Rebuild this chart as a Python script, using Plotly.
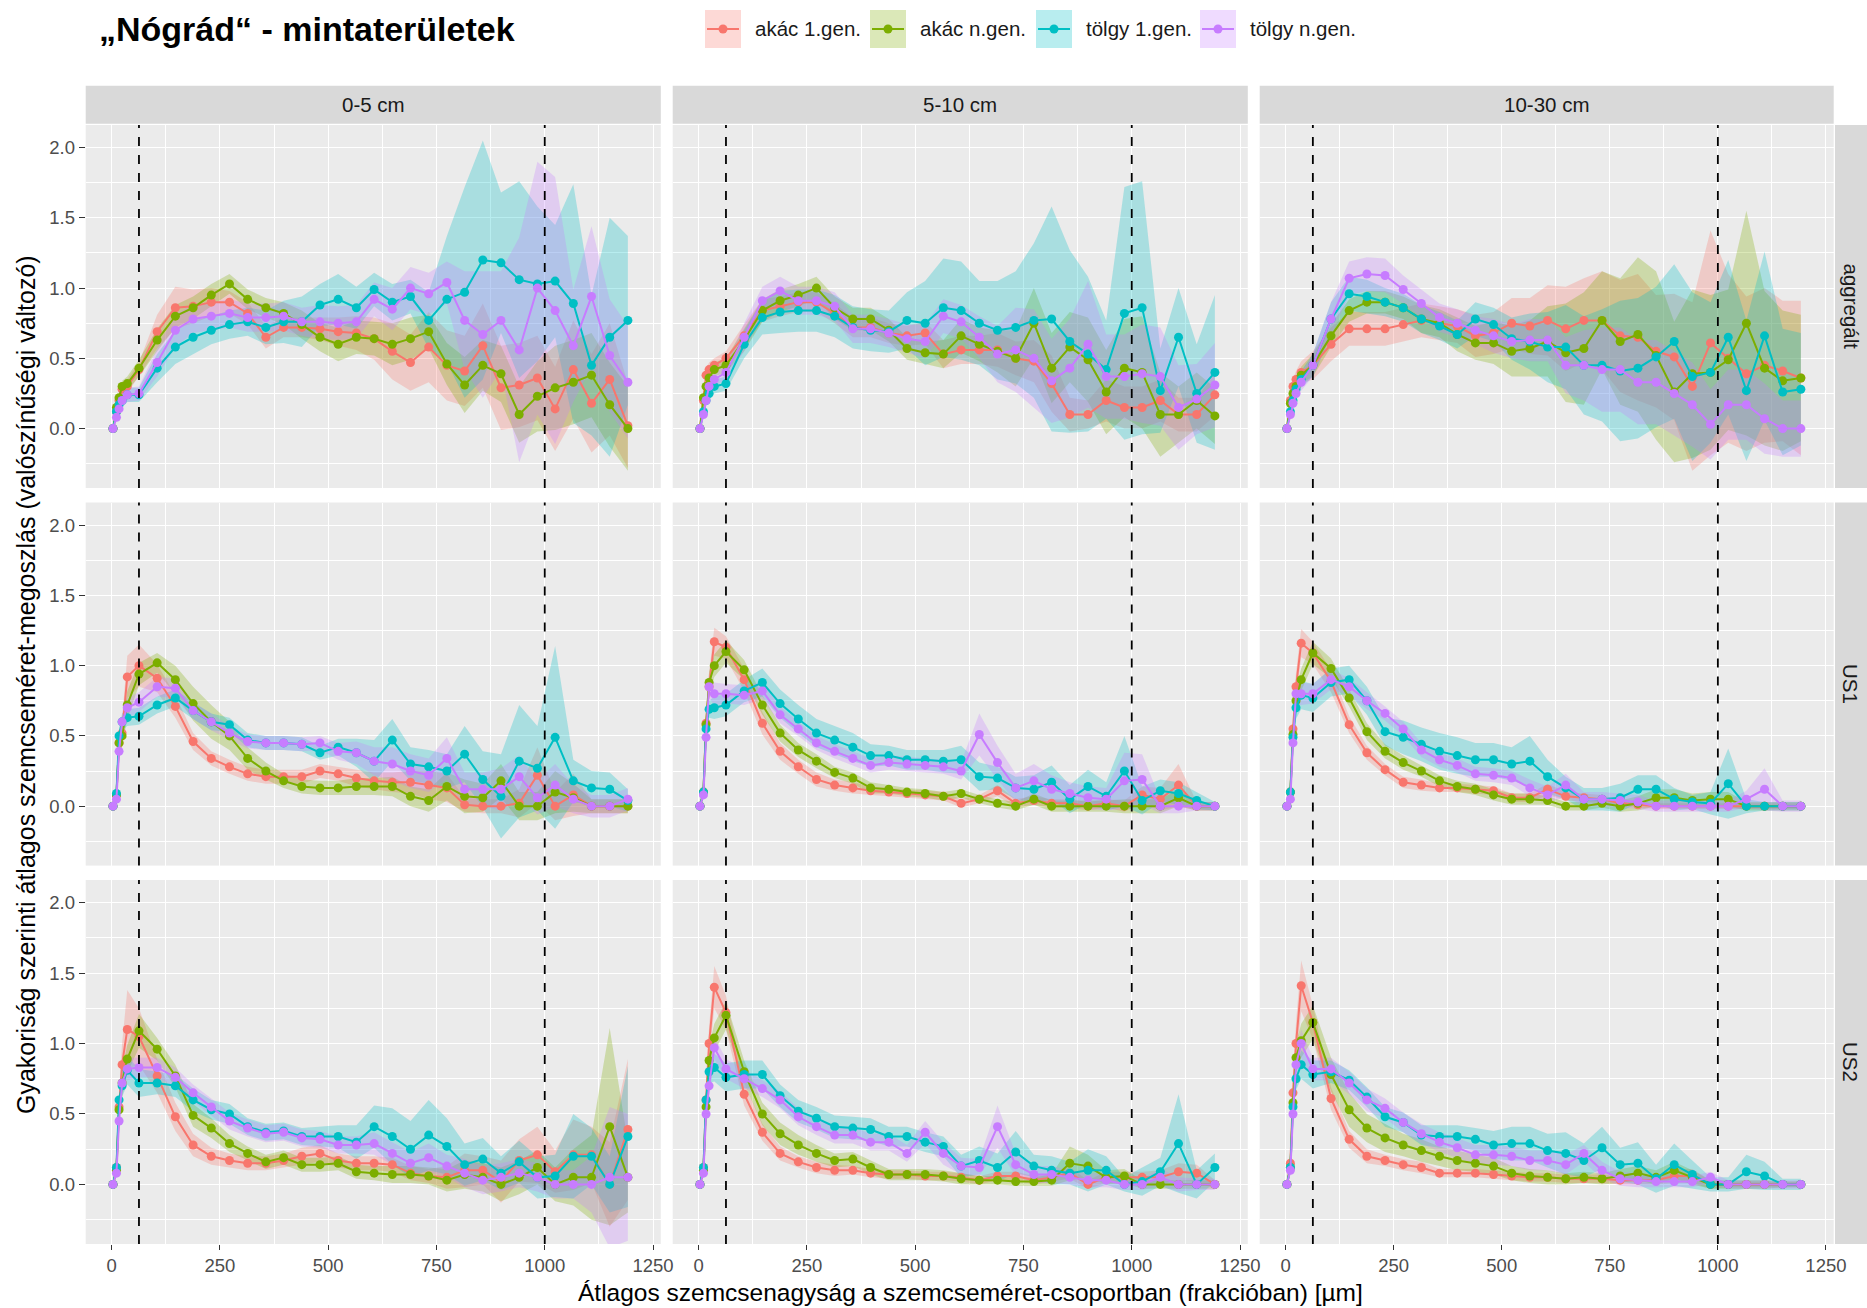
import plotly.graph_objects as go

W, H = 1867, 1308          # target picture size (all pixel coordinates below refer to it)
LAYOUT_W = 1880            # plotly layout width (the page is photographed slightly squeezed)

# ---------------- data ----------------
X = [3, 11, 17, 24, 36, 63, 105, 147, 188, 230, 272, 314, 356, 397, 439, 481, 523,
     565, 606, 648, 690, 732, 774, 815, 857, 899, 941, 983, 1024, 1066, 1108, 1150, 1192]

SERIES = ["akác 1.gen.", "akác n.gen.", "tölgy 1.gen.", "tölgy n.gen."]
COLORS = ["#F8766D", "#7CAE00", "#00BFC4", "#C77CFF"]
FILLS = ["rgba(248,118,109,0.28)", "rgba(124,174,0,0.28)", "rgba(0,191,196,0.28)", "rgba(199,124,255,0.28)"]
DEPTHS = ["0-5 cm", "5-10 cm", "10-30 cm"]
SITES = ["aggregált", "US1", "US2"]
X_TICKS = [0, 250, 500, 750, 1000, 1250]
Y_TICKS = [0.0, 0.5, 1.0, 1.5, 2.0]
Y_TICK_TEXT = ["0.0", "0.5", "1.0", "1.5", "2.0"]
VLINES = [63, 1000]

# aggregált, 0-5 cm
AGG_05_A1 = [0, .12, .2, .28, .3, .42, .69, .86, .87, .9, .9, .82, .65, .72, .72, .71, .69, .68, .64, .55, .47, .58, .45, .41, .59, .29, .31, .36, .14, .42, .18, .35, .02]
AGG_05_AN = [0, .15, .22, .3, .32, .43, .63, .8, .86, .95, 1.03, .92, .86, .82, .74, .65, .6, .65, .64, .6, .64, .69, .46, .31, .45, .39, .1, .23, .29, .33, .38, .17, 0]
AGG_05_T1 = [0, .12, .17, .2, .24, .24, .43, .58, .65, .7, .74, .76, .72, .76, .76, .88, .92, .86, .99, .9, .94, .77, .92, .97, 1.2, 1.18, 1.06, 1.03, 1.05, .89, .45, .65, .77]
AGG_05_TN = [0, .08, .14, .2, .24, .25, .47, .7, .78, .8, .82, .79, .79, .8, .76, .76, .75, .76, .92, .85, 1.0, .96, 1.04, .77, .67, .77, .56, 1.0, .84, .59, .94, .52, .33]
AGG_05_A1_SD = [0, .03, .04, .05, .05, .05, .12, .15, .12, .1, .08, .08, .08, .07, .07, .08, .1, .12, .15, .2, .2, .25, .25, .25, .3, .3, .3, .3, .3, .35, .35, .4, .3]
AGG_05_AN_SD = [0, .03, .03, .04, .05, .06, .08, .08, .08, .08, .07, .07, .07, .08, .1, .1, .12, .12, .12, .15, .15, .12, .15, .2, .18, .2, .2, .25, .3, .3, .3, .3, .3]
AGG_05_T1_SD = [0, .03, .04, .05, .05, .05, .1, .12, .12, .1, .1, .1, .12, .15, .18, .15, .18, .15, .12, .13, .12, .2, .45, .75, .85, .5, .7, .55, .4, .85, .5, .85, .6]
AGG_05_TN_SD = [0, .03, .04, .05, .05, .05, .1, .12, .1, .1, .1, .1, .1, .1, .1, .12, .12, .12, .12, .15, .15, .15, .15, .35, .45, .35, .8, .9, .95, .4, .5, .4, .4]

# aggregált, 5-10 cm
AGG_510_A1 = [0, .2, .38, .42, .45, .5, .66, .84, .87, .9, .9, .82, .72, .72, .68, .66, .68, .53, .56, .56, .56, .5, .48, .32, .1, .1, .2, .15, .15, .2, .1, .1, .24]
AGG_510_AN = [0, .22, .3, .36, .42, .45, .63, .84, .91, .95, 1.0, .86, .78, .78, .7, .57, .54, .53, .66, .6, .55, .5, .75, .43, .58, .49, .26, .43, .4, .1, .1, .2, .09]
AGG_510_T1 = [0, .12, .2, .25, .3, .32, .6, .79, .83, .84, .84, .8, .72, .7, .69, .77, .75, .86, .84, .75, .7, .72, .77, .78, .62, .53, .42, .82, .86, .27, .65, .25, .4]
AGG_510_TN = [0, .1, .2, .3, .35, .4, .65, .91, .98, .91, .91, .87, .71, .71, .68, .64, .62, .8, .76, .65, .53, .56, .5, .34, .43, .6, .37, .37, .39, .37, .15, .21, .31]
AGG_510_A1_SD = [0, .04, .05, .05, .05, .05, .08, .08, .07, .07, .07, .07, .07, .07, .07, .07, .08, .1, .1, .1, .12, .12, .15, .2, .12, .1, .15, .15, .15, .15, .12, .12, .15]
AGG_510_AN_SD = [0, .04, .05, .05, .05, .05, .08, .08, .08, .08, .08, .08, .08, .08, .08, .08, .08, .1, .12, .12, .15, .2, .25, .25, .25, .3, .3, .35, .4, .3, .2, .2, .2]
AGG_510_T1_SD = [0, .03, .04, .05, .05, .05, .1, .12, .15, .15, .15, .15, .15, .15, .15, .2, .3, .35, .35, .3, .35, .4, .55, .8, .65, .55, .35, .9, .9, .3, .35, .35, .55]
AGG_510_TN_SD = [0, .03, .04, .05, .05, .05, .1, .1, .1, .1, .1, .1, .1, .1, .1, .1, .12, .12, .12, .15, .2, .3, .35, .3, .35, .45, .3, .3, .35, .35, .3, .25, .3]

# aggregált, 10-30 cm
AGG_1030_A1 = [0, .2, .3, .35, .4, .45, .6, .71, .71, .71, .74, .77, .75, .73, .66, .68, .75, .73, .77, .71, .77, .77, .66, .65, .55, .51, .3, .61, .5, .39, .45, .41, .36]
AGG_1030_AN = [0, .18, .25, .3, .38, .45, .66, .84, .9, .9, .86, .78, .75, .67, .61, .61, .55, .57, .62, .54, .57, .77, .62, .67, .52, .26, .39, .4, .49, .75, .43, .34, .36]
AGG_1030_T1 = [0, .12, .2, .28, .35, .45, .78, .96, .94, .9, .86, .78, .73, .67, .78, .74, .64, .62, .58, .58, .45, .45, .41, .43, .51, .62, .37, .4, .65, .27, .66, .26, .28]
AGG_1030_TN = [0, .1, .18, .25, .33, .45, .78, 1.07, 1.1, 1.09, .99, .89, .79, .75, .7, .66, .62, .63, .63, .45, .45, .42, .42, .33, .33, .25, .17, .03, .17, .17, .07, 0, 0]
AGG_1030_A1_SD = [0, .04, .05, .06, .08, .1, .12, .12, .12, .12, .12, .12, .12, .12, .15, .15, .18, .2, .25, .3, .3, .35, .4, .45, .4, .45, .6, .8, .6, .55, .55, .5, .55]
AGG_1030_AN_SD = [0, .04, .05, .05, .06, .08, .08, .08, .08, .08, .08, .1, .1, .12, .12, .15, .18, .2, .25, .35, .4, .35, .45, .55, .6, .5, .6, .55, .5, .8, .55, .5, .45]
AGG_1030_T1_SD = [0, .03, .04, .05, .06, .08, .12, .12, .12, .1, .1, .1, .1, .1, .12, .12, .15, .2, .25, .3, .35, .4, .5, .5, .5, .55, .6, .5, .55, .5, .6, .45, .4]
AGG_1030_TN_SD = [0, .03, .04, .05, .06, .08, .12, .12, .12, .12, .1, .1, .1, .1, .1, .12, .12, .15, .15, .2, .25, .3, .3, .3, .3, .3, .3, .25, .25, .25, .25, .2, .2]

# US1, 0-5 cm
US1_05_A1 = [0, .08, .45, .52, .92, 1.0, .91, .71, .46, .34, .28, .23, .21, .21, .21, .25, .23, .2, .18, .17, .17, .15, .13, .01, 0, 0, .02, .22, 0, .08, 0, 0, 0]
US1_05_AN = [0, .08, .45, .5, .72, .94, 1.02, .9, .73, .6, .5, .34, .25, .18, .14, .13, .13, .14, .14, .14, .07, .04, .14, .07, .06, .18, 0, 0, .1, .06, 0, 0, 0]
US1_05_T1 = [0, .09, .5, .6, .63, .64, .72, .77, .68, .6, .58, .47, .45, .45, .44, .38, .42, .38, .32, .47, .3, .28, .25, .37, .19, .07, .32, .27, .49, .18, .13, .12, .04]
US1_05_TN = [0, .05, .39, .6, .7, .74, .85, .84, .68, .6, .52, .46, .45, .45, .44, .45, .39, .38, .32, .3, .25, .22, .34, .12, .12, .12, .21, .06, .15, .05, 0, 0, .05]
US1_05_A1_SD = [0, .03, .08, .1, .15, .15, .1, .08, .06, .05, .05, .05, .05, .05, .05, .05, .05, .06, .06, .07, .08, .1, .1, .05, .05, .05, .1, .2, .1, .15, .05, .05, .05]
US1_05_AN_SD = [0, .03, .06, .08, .1, .08, .07, .1, .12, .12, .1, .08, .06, .05, .05, .05, .05, .06, .06, .07, .07, .08, .1, .12, .1, .12, .1, .1, .15, .1, .05, .05, .05]
US1_05_T1_SD = [0, .03, .06, .06, .06, .06, .06, .06, .06, .06, .05, .05, .05, .05, .05, .05, .06, .1, .15, .15, .12, .12, .12, .2, .2, .3, .4, .3, .65, .15, .12, .12, .08]
US1_05_TN_SD = [0, .03, .06, .06, .07, .07, .07, .07, .06, .06, .05, .05, .05, .05, .05, .05, .06, .08, .1, .12, .12, .12, .15, .12, .12, .15, .15, .12, .15, .1, .08, .08, .08]

# US1, 5-10 cm
US1_510_A1 = [0, .1, .59, .85, 1.17, 1.13, .9, .59, .39, .28, .19, .15, .13, .11, .1, .09, .08, .07, .02, .05, .11, .02, .04, .02, .02, 0, .02, 0, .08, .05, .15, 0, 0]
US1_510_AN = [0, .1, .58, .88, 1.0, 1.1, .97, .72, .52, .4, .32, .24, .2, .13, .12, .1, .09, .07, .09, .05, .02, 0, .05, 0, 0, 0, 0, 0, 0, 0, .06, 0, 0]
US1_510_T1 = [0, .1, .55, .69, .7, .72, .82, .88, .73, .62, .52, .47, .42, .36, .36, .33, .33, .32, .33, .21, .2, .13, .12, .17, .05, .14, .07, .25, .04, .11, .09, .04, 0]
US1_510_TN = [0, .08, .49, .85, .8, .8, .79, .82, .65, .55, .45, .39, .34, .29, .31, .3, .29, .28, .25, .51, .31, .13, .18, .12, .09, .06, .05, .18, .19, 0, 0, 0, 0]
US1_510_A1_SD = [0, .03, .08, .1, .1, .08, .08, .08, .06, .05, .05, .04, .04, .03, .03, .03, .03, .03, .03, .03, .04, .03, .03, .03, .03, .03, .03, .04, .06, .08, .15, .03, .03]
US1_510_AN_SD = [0, .03, .06, .08, .08, .08, .07, .07, .06, .05, .05, .04, .04, .04, .03, .03, .03, .03, .03, .03, .03, .03, .04, .04, .04, .04, .04, .05, .05, .05, .06, .03, .03]
US1_510_T1_SD = [0, .03, .05, .06, .08, .08, .08, .1, .1, .1, .1, .1, .1, .08, .07, .07, .07, .08, .1, .1, .08, .08, .1, .12, .1, .12, .1, .25, .1, .08, .08, .06, .03]
US1_510_TN_SD = [0, .03, .06, .08, .08, .07, .07, .06, .06, .05, .05, .05, .05, .05, .05, .05, .05, .05, .06, .15, .12, .1, .12, .1, .08, .08, .08, .2, .18, .05, .05, .03, .03]

# US1, 10-30 cm
US1_1030_A1 = [0, .1, .55, .85, 1.16, 1.09, .89, .58, .38, .26, .17, .15, .13, .13, .12, .11, .06, .06, .12, .07, .06, .05, .02, .01, 0, 0, 0, 0, 0, 0, 0, 0, 0]
US1_1030_AN = [0, .1, .51, .75, .9, 1.09, .98, .77, .53, .39, .31, .25, .18, .14, .12, .08, .05, .05, .04, 0, 0, .02, 0, .02, .06, .06, .04, .05, .05, 0, 0, 0, 0]
US1_1030_T1 = [0, .1, .49, .7, .79, .77, .88, .9, .75, .53, .49, .44, .39, .36, .33, .33, .3, .32, .21, .13, .05, .05, .06, .12, .12, .05, .03, .02, .16, 0, 0, 0, 0]
US1_1030_TN = [0, .05, .45, .8, .8, .8, .9, .85, .75, .66, .55, .4, .33, .29, .23, .22, .2, .13, .08, .15, .05, .05, .04, .03, 0, 0, 0, 0, 0, .05, .12, 0, 0]
US1_1030_A1_SD = [0, .03, .08, .1, .1, .08, .08, .06, .05, .04, .04, .04, .03, .03, .03, .03, .03, .03, .04, .03, .03, .03, .02, .02, .02, .02, .02, .02, .02, .02, .02, .02, .02]
US1_1030_AN_SD = [0, .03, .06, .08, .08, .08, .07, .06, .06, .05, .05, .04, .04, .04, .04, .04, .04, .04, .03, .03, .03, .03, .04, .05, .06, .06, .05, .05, .05, .03, .03, .03, .03]
US1_1030_T1_SD = [0, .03, .06, .08, .1, .1, .1, .1, .1, .1, .12, .12, .13, .13, .12, .12, .12, .18, .12, .08, .08, .08, .1, .1, .1, .08, .05, .08, .25, .05, .03, .03, .03]
US1_1030_TN_SD = [0, .03, .06, .08, .08, .07, .07, .06, .06, .05, .05, .05, .05, .05, .05, .05, .05, .06, .06, .08, .05, .05, .05, .05, .04, .04, .04, .04, .04, .06, .15, .04, .04]

# US2, 0-5 cm
US2_05_A1 = [0, .12, .55, .85, 1.1, 1.05, .77, .48, .28, .2, .17, .15, .15, .17, .2, .22, .17, .15, .15, .14, .08, .06, .05, .1, .1, .02, .17, .21, .09, .21, .21, 0, .39]
US2_05_AN = [0, .1, .53, .72, .89, 1.09, .96, .77, .49, .4, .29, .22, .16, .19, .14, .14, .15, .09, .08, .07, .07, .06, .03, .07, .05, 0, .05, .12, 0, .05, .05, .41, .05]
US2_05_T1 = [0, .12, .6, .7, .81, .72, .72, .7, .6, .53, .5, .41, .37, .38, .34, .34, .34, .3, .41, .34, .25, .35, .27, .14, .18, .08, .16, .05, .06, .2, .2, 0, .34]
US2_05_TN = [0, .08, .45, .72, .82, .83, .83, .76, .65, .55, .45, .4, .36, .37, .33, .32, .28, .28, .29, .22, .15, .19, .13, .08, .03, .05, .08, .05, 0, 0, 0, .05, .05]
US2_05_A1_SD = [0, .03, .1, .15, .28, .2, .12, .1, .08, .06, .05, .05, .05, .05, .06, .06, .05, .05, .05, .05, .05, .05, .08, .12, .1, .15, .15, .2, .15, .25, .2, .3, .5]
US2_05_AN_SD = [0, .03, .08, .1, .1, .12, .08, .08, .08, .07, .06, .05, .05, .05, .05, .05, .05, .05, .05, .06, .06, .06, .08, .1, .1, .12, .12, .12, .12, .2, .3, .7, .25]
US2_05_T1_SD = [0, .03, .06, .08, .1, .1, .08, .08, .08, .07, .07, .06, .06, .06, .06, .07, .08, .12, .15, .2, .2, .25, .2, .15, .15, .12, .15, .15, .15, .3, .2, .2, .5]
US2_05_TN_SD = [0, .03, .06, .08, .08, .07, .07, .07, .06, .06, .06, .06, .06, .06, .06, .06, .06, .06, .08, .08, .08, .1, .08, .1, .1, .1, .1, .1, .1, .1, .2, .5, .45]

# US2, 5-10 cm
US2_510_A1 = [0, .12, .6, 1.0, 1.4, 1.22, .64, .37, .22, .16, .12, .1, .1, .08, .07, .07, .06, .06, .05, .03, .06, .06, .03, .05, .08, 0, .05, .05, .05, .05, .09, .08, 0]
US2_510_AN = [0, .1, .55, .88, 1.04, 1.2, .8, .5, .36, .28, .22, .17, .18, .12, .07, .07, .07, .06, .04, .03, .03, .02, .02, .03, .15, .13, .05, .06, 0, 0, 0, 0, 0]
US2_510_T1 = [0, .12, .6, .8, .83, .76, .78, .78, .63, .52, .47, .41, .4, .39, .34, .34, .3, .27, .13, .17, .12, .23, .13, .1, .08, .1, .1, 0, .02, .09, .29, 0, .12]
US2_510_TN = [0, .08, .5, .7, .97, .82, .75, .68, .6, .48, .41, .35, .35, .3, .3, .22, .37, .22, .13, .12, .41, .14, .07, .07, .05, .03, .03, 0, 0, .05, 0, 0, 0]
US2_510_A1_SD = [0, .03, .1, .12, .15, .12, .08, .06, .05, .04, .04, .04, .03, .03, .03, .03, .03, .03, .03, .03, .03, .03, .03, .03, .04, .03, .04, .04, .04, .05, .06, .06, .03]
US2_510_AN_SD = [0, .03, .08, .1, .1, .1, .08, .08, .08, .07, .06, .05, .05, .05, .04, .04, .04, .04, .04, .03, .03, .03, .03, .04, .12, .08, .05, .05, .03, .03, .03, .03, .03]
US2_510_T1_SD = [0, .03, .06, .08, .1, .1, .1, .1, .08, .08, .08, .08, .08, .08, .07, .07, .07, .07, .08, .1, .1, .15, .08, .1, .08, .15, .1, .05, .1, .1, .35, .1, .1]
US2_510_TN_SD = [0, .03, .06, .1, .08, .07, .07, .06, .06, .06, .06, .06, .06, .06, .06, .06, .08, .08, .06, .06, .15, .08, .06, .06, .05, .05, .05, .04, .04, .06, .05, .04, .04]

# US2, 10-30 cm
US2_1030_A1 = [0, .15, .65, 1.0, 1.41, 1.15, .61, .32, .2, .17, .14, .12, .08, .08, .08, .07, .06, .05, .05, .04, .04, .04, .03, .03, .03, .06, .06, 0, 0, 0, 0, 0, 0]
US2_1030_AN = [0, .12, .58, .9, 1.02, 1.15, .78, .53, .4, .33, .28, .24, .2, .17, .15, .13, .08, .06, .05, .04, .05, .04, .06, .08, .05, .1, .05, 0, 0, 0, 0, 0, 0]
US2_1030_T1 = [0, .12, .55, .75, .85, .78, .8, .74, .62, .48, .44, .35, .34, .34, .32, .28, .29, .29, .24, .22, .17, .26, .14, .15, .04, .14, .07, 0, 0, .09, .06, 0, 0]
US2_1030_TN = [0, .1, .5, .85, 1.0, .82, .82, .72, .6, .54, .44, .36, .3, .26, .21, .21, .2, .17, .17, .14, .22, .1, .04, .03, .02, .02, .02, .05, 0, 0, 0, 0, 0]
US2_1030_A1_SD = [0, .03, .1, .15, .18, .12, .08, .06, .05, .04, .04, .04, .03, .03, .03, .03, .03, .03, .03, .03, .03, .03, .03, .03, .03, .05, .05, .03, .02, .02, .02, .02, .02]
US2_1030_AN_SD = [0, .03, .08, .1, .12, .12, .12, .12, .1, .1, .08, .08, .07, .07, .06, .06, .05, .05, .05, .04, .04, .04, .05, .05, .05, .06, .05, .03, .03, .03, .03, .02, .02]
US2_1030_T1_SD = [0, .03, .06, .08, .1, .1, .08, .07, .07, .07, .07, .07, .08, .08, .08, .1, .12, .12, .12, .15, .12, .15, .12, .15, .1, .15, .1, .05, .05, .12, .1, .04, .04]
US2_1030_TN_SD = [0, .03, .06, .08, .1, .08, .08, .08, .08, .07, .07, .07, .07, .07, .07, .07, .07, .07, .07, .07, .06, .06, .05, .05, .04, .04, .04, .04, .03, .03, .03, .03, .03]

PANELS = [
    [([AGG_05_A1, AGG_05_AN, AGG_05_T1, AGG_05_TN], [AGG_05_A1_SD, AGG_05_AN_SD, AGG_05_T1_SD, AGG_05_TN_SD]),
     ([AGG_510_A1, AGG_510_AN, AGG_510_T1, AGG_510_TN], [AGG_510_A1_SD, AGG_510_AN_SD, AGG_510_T1_SD, AGG_510_TN_SD]),
     ([AGG_1030_A1, AGG_1030_AN, AGG_1030_T1, AGG_1030_TN], [AGG_1030_A1_SD, AGG_1030_AN_SD, AGG_1030_T1_SD, AGG_1030_TN_SD])],
    [([US1_05_A1, US1_05_AN, US1_05_T1, US1_05_TN], [US1_05_A1_SD, US1_05_AN_SD, US1_05_T1_SD, US1_05_TN_SD]),
     ([US1_510_A1, US1_510_AN, US1_510_T1, US1_510_TN], [US1_510_A1_SD, US1_510_AN_SD, US1_510_T1_SD, US1_510_TN_SD]),
     ([US1_1030_A1, US1_1030_AN, US1_1030_T1, US1_1030_TN], [US1_1030_A1_SD, US1_1030_AN_SD, US1_1030_T1_SD, US1_1030_TN_SD])],
    [([US2_05_A1, US2_05_AN, US2_05_T1, US2_05_TN], [US2_05_A1_SD, US2_05_AN_SD, US2_05_T1_SD, US2_05_TN_SD]),
     ([US2_510_A1, US2_510_AN, US2_510_T1, US2_510_TN], [US2_510_A1_SD, US2_510_AN_SD, US2_510_T1_SD, US2_510_TN_SD]),
     ([US2_1030_A1, US2_1030_AN, US2_1030_T1, US2_1030_TN], [US2_1030_A1_SD, US2_1030_AN_SD, US2_1030_T1_SD, US2_1030_TN_SD])],
]

# ---------------- geometry (pixels of the 1867x1308 picture) ----------------
COL_PX = [(85.7, 660.8), (672.7, 1247.8), (1259.7, 1833.7)]
ROW_PX = [(125.0, 488.0), (502.5, 865.6), (880.0, 1244.0)]
STRIP_TOP = (85.7, 123.8)
STRIP_RIGHT = (1835.0, 1867.0)
X_RANGE = [-60, 1268]
Y_RANGE = [-0.423, 2.161]
FONT = "Liberation Sans, Arial, sans-serif"


def px(x):
    return x / W


def py(y):
    return 1 - y / H


fig = go.Figure()
layout = dict(
    width=LAYOUT_W, height=H, autosize=False,
    margin=dict(l=0, r=0, t=0, b=0, pad=0),
    paper_bgcolor="white", plot_bgcolor="#EBEBEB",
    showlegend=False, font=dict(family=FONT, color="#1A1A1A"),
)
shapes = []
annotations = []

for r in range(3):
    for c in range(3):
        k = r * 3 + c + 1
        s = "" if k == 1 else str(k)
        means, sds = PANELS[r][c]
        for i in range(4):
            up = [m + d for m, d in zip(means[i], sds[i])]
            lo = [m - d for m, d in zip(means[i], sds[i])]
            fig.add_trace(go.Scatter(
                x=X + X[::-1], y=up + lo[::-1], fill="toself", mode="lines",
                fillcolor=FILLS[i], line=dict(width=0, color="rgba(0,0,0,0)"),
                hoverinfo="skip", xaxis="x" + s, yaxis="y" + s))
        for i in range(4):
            fig.add_trace(go.Scatter(
                x=X, y=means[i], mode="lines+markers", name=SERIES[i],
                line=dict(color=COLORS[i], width=2),
                marker=dict(color=COLORS[i], size=9),
                xaxis="x" + s, yaxis="y" + s))
        x0, x1 = COL_PX[c]
        y0, y1 = ROW_PX[r]
        layout["xaxis" + s] = dict(
            domain=[px(x0), px(x1)], anchor="y" + s, range=X_RANGE,
            tickvals=X_TICKS, showticklabels=(r == 2),
            ticks="outside" if r == 2 else "", ticklen=5, tickwidth=1.1, tickcolor="#333333",
            tickfont=dict(size=18.5, color="#4D4D4D", family=FONT),
            showgrid=True, gridcolor="white", gridwidth=1.3, zeroline=False, showline=False,
            minor=dict(tickvals=[125, 375, 625, 875, 1125], showgrid=True, gridcolor="white", gridwidth=0.6),
        )
        layout["yaxis" + s] = dict(
            domain=[py(y1), py(y0)], anchor="x" + s, range=Y_RANGE,
            tickvals=Y_TICKS, ticktext=Y_TICK_TEXT, showticklabels=(c == 0),
            ticks="outside" if c == 0 else "", ticklen=6, tickwidth=1.1, tickcolor="#333333",
            tickfont=dict(size=18.5, color="#4D4D4D", family=FONT),
            showgrid=True, gridcolor="white", gridwidth=1.3, zeroline=False, showline=False,
            minor=dict(tickvals=[-0.25, 0.25, 0.75, 1.25, 1.75], showgrid=True, gridcolor="white", gridwidth=0.6),
        )
        for v in VLINES:
            shapes.append(dict(type="line", xref="x" + s, yref="y" + s + " domain",
                               x0=v, x1=v, y0=0, y1=1,
                               line=dict(color="black", width=1.8, dash="dash")))

# strips
for c in range(3):
    x0, x1 = COL_PX[c]
    shapes.append(dict(type="rect", xref="paper", yref="paper", x0=px(x0), x1=px(x1),
                       y0=py(STRIP_TOP[1]), y1=py(STRIP_TOP[0]),
                       fillcolor="#D9D9D9", line=dict(width=0), layer="below"))
    annotations.append(dict(text=DEPTHS[c], xref="paper", yref="paper",
                            x=px((x0 + x1) / 2), y=py((STRIP_TOP[0] + STRIP_TOP[1]) / 2),
                            showarrow=False, xanchor="center", yanchor="middle",
                            font=dict(size=20.5, color="#1A1A1A", family=FONT)))
for r in range(3):
    y0, y1 = ROW_PX[r]
    shapes.append(dict(type="rect", xref="paper", yref="paper", x0=px(STRIP_RIGHT[0]), x1=px(STRIP_RIGHT[1]),
                       y0=py(y1), y1=py(y0), fillcolor="#D9D9D9", line=dict(width=0), layer="below"))
    annotations.append(dict(text=SITES[r], xref="paper", yref="paper",
                            x=px(1851), y=py((y0 + y1) / 2), textangle=90,
                            showarrow=False, xanchor="center", yanchor="middle",
                            font=dict(size=20.5, color="#1A1A1A", family=FONT)))

# title
annotations.append(dict(text="<b>„Nógrád“ - mintaterületek</b>", xref="paper", yref="paper",
                        x=px(97), y=py(29), xanchor="left", yanchor="middle", showarrow=False,
                        font=dict(size=34, color="black", family=FONT)))

# legend (manual)
LEG_KEY_X = [705, 870, 1036, 1200]
LEG_W = 36
LEG_Y0, LEG_Y1 = 10, 48
for i in range(4):
    kx = LEG_KEY_X[i]
    cy = (LEG_Y0 + LEG_Y1) / 2
    shapes.append(dict(type="rect", xref="paper", yref="paper", x0=px(kx), x1=px(kx + LEG_W),
                       y0=py(LEG_Y1), y1=py(LEG_Y0), fillcolor=FILLS[i], line=dict(width=0)))
    shapes.append(dict(type="line", xref="paper", yref="paper", x0=px(kx + 2), x1=px(kx + LEG_W - 2),
                       y0=py(cy), y1=py(cy), line=dict(color=COLORS[i], width=2)))
    shapes.append(dict(type="circle", xref="paper", yref="paper",
                       x0=px(kx + LEG_W / 2 - 4.5), x1=px(kx + LEG_W / 2 + 4.5),
                       y0=py(cy + 4.5), y1=py(cy - 4.5), fillcolor=COLORS[i], line=dict(width=0)))
    annotations.append(dict(text=SERIES[i], xref="paper", yref="paper",
                            x=px(kx + LEG_W + 12), y=py(cy), xanchor="left", yanchor="middle",
                            showarrow=False, font=dict(size=20.5, color="#1A1A1A", family=FONT)))

# axis titles
annotations.append(dict(text="Átlagos szemcsenagyság a szemcseméret-csoportban (frakcióban) [µm]",
                        xref="paper", yref="paper", x=px(970), y=py(1292),
                        xanchor="center", yanchor="middle", showarrow=False,
                        font=dict(size=24.5, color="black", family=FONT)))
annotations.append(dict(text="Gyakoriság szerinti átlagos szemcseméret-megoszlás (valószínűségi változó)",
                        xref="paper", yref="paper", x=px(26), y=py(685), textangle=-90,
                        xanchor="center", yanchor="middle", showarrow=False,
                        font=dict(size=25, color="black", family=FONT)))

layout["shapes"] = shapes
layout["annotations"] = annotations
fig.update_layout(**layout)

POST = (
    "document.documentElement.style.margin='0';"
    "document.body.style.margin='0';"
)

fig.write_html(
    "out.html",
    config={"displayModeBar": False, "responsive": False},
    post_script=POST,
)
